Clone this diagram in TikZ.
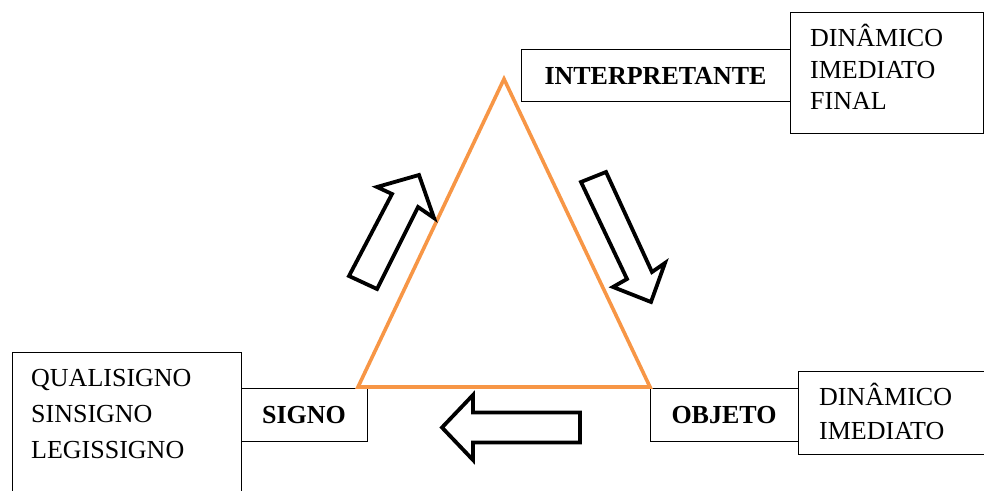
\documentclass[tikz,border=0pt]{standalone}
\usepackage{fontspec}
\setmainfont{Liberation Serif}
\definecolor{trioorange}{HTML}{F79646}
\tikzset{
  box/.style={draw=black, line width=1pt, inner sep=0pt, text depth=0pt},
  headtext/.style={font=\fontsize{26}{31}\selectfont\bfseries},
  listtext/.style={align=left, inner sep=0pt, anchor=base west},
  blockarrow/.style={draw=black, line width=3.8pt},
}
\begin{document}
\begin{tikzpicture}[x=1pt,y=1pt]
    \useasboundingbox (0,0) rectangle (984,490);
    \clip (0,0) rectangle (984,490);

    % caixas
    \node[box,minimum width=269,minimum height=52,headtext] (interp) at (655.5,414) {INTERPRETANTE};
    \node[box,minimum width=193,minimum height=121] (interptipos) at (886.5,416.5) {};
    \node[box,minimum width=126,minimum height=53,headtext] (signo) at (304,75.5) {SIGNO};
    \node[box,minimum width=229,minimum height=168] (signotipos) at (126.5,54) {};
    \node[box,minimum width=148,minimum height=53,headtext] (objeto) at (724,75.5) {OBJETO};
    \node[box,minimum width=212,minimum height=83] (objetotipos) at (904,77.5) {};

    % listas (ancoradas na ultima linha)
    \node[listtext,font=\fontsize{26}{31.5}\selectfont] (interplista) at (810,380) {DINÂMICO\\IMEDIATO\\FINAL};
    \node[listtext,font=\fontsize{26}{36}\selectfont] (signolista) at (31,32) {QUALISIGNO\\SINSIGNO\\LEGISSIGNO};
    \node[listtext,font=\fontsize{26}{34}\selectfont] (objetolista) at (819,51) {DINÂMICO\\IMEDIATO};

    % triangulo
    \coordinate (T) at (504,411);
    \coordinate (L) at (358,103);
    \coordinate (R) at (650,103);
    \draw[trioorange,line width=3.6pt] (T) -- (R) -- (L) -- cycle;

    % setas
    \draw[blockarrow] (349,214) -- (377,201) -- (418,283) -- (434,272) -- (419,315) -- (377,303) -- (392,296) -- cycle;
    \draw[blockarrow] (581,308) -- (606,318) -- (652,218) -- (665,227) -- (651,188) -- (613,203) -- (627,211) -- cycle;
    \draw[blockarrow] (442,62.5) -- (473,95) -- (473,77.5) -- (580,77.5) -- (580,47.5) -- (473,47.5) -- (473,30) -- cycle;
\end{tikzpicture}
\end{document}
